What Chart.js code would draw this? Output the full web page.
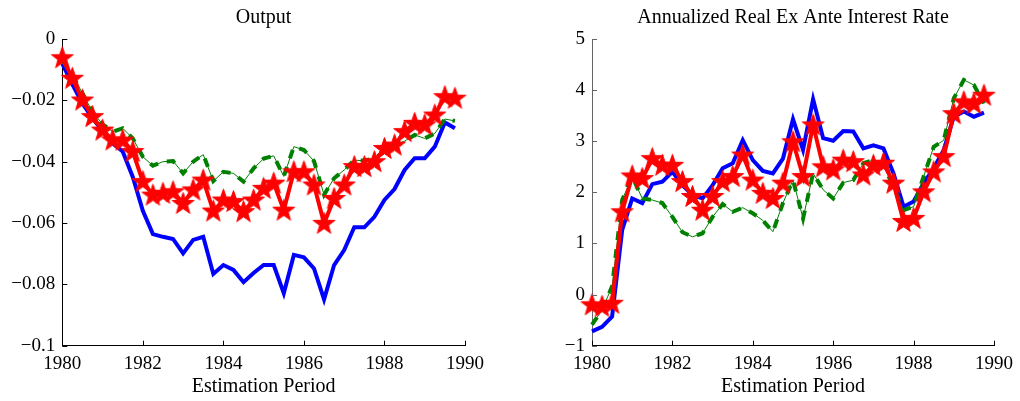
<!DOCTYPE html>
<html><head><meta charset="utf-8">
<script src="https://cdn.jsdelivr.net/npm/chart.js@4/dist/chart.umd.min.js"></script>
<style>
html,body{margin:0;padding:0;background:#fff;}
#wrap{position:relative;width:1020px;height:401px;overflow:hidden;}
canvas{position:absolute;top:0;}
</style></head><body>
<div id="wrap">
<canvas id="c1" width="510" height="401" style="left:0"></canvas>
<canvas id="c2" width="510" height="401" style="left:510px"></canvas>
</div>
<script>
const periods = [1980,1980.25,1980.5,1980.75,1981,1981.25,1981.5,1981.75,1982,1982.25,1982.5,1982.75,1983,1983.25,1983.5,1983.75,1984,1984.25,1984.5,1984.75,1985,1985.25,1985.5,1985.75,1986,1986.25,1986.5,1986.75,1987,1987.25,1987.5,1987.75,1988,1988.25,1988.5,1988.75,1989,1989.25,1989.5,1989.75];

const outputBlue = [-0.008,-0.0148,-0.021,-0.0258,-0.030,-0.034,-0.0367,-0.045,-0.056,-0.0636,-0.0645,-0.0652,-0.0699,-0.0655,-0.0645,-0.0766,-0.0737,-0.0753,-0.0793,-0.0763,-0.0737,-0.0737,-0.0829,-0.0704,-0.0712,-0.0748,-0.0849,-0.0737,-0.0688,-0.0614,-0.0614,-0.058,-0.0525,-0.0489,-0.0427,-0.0389,-0.0389,-0.0351,-0.0272,-0.0291];
const outputGreen = [-0.007,-0.0117,-0.0177,-0.0237,-0.0278,-0.0302,-0.0291,-0.0324,-0.0384,-0.0413,-0.04,-0.0398,-0.0438,-0.04,-0.0377,-0.0463,-0.0433,-0.0438,-0.0465,-0.0422,-0.039,-0.0381,-0.0448,-0.0351,-0.0362,-0.0398,-0.0508,-0.0454,-0.0427,-0.0395,-0.0397,-0.0389,-0.0367,-0.0346,-0.0333,-0.0313,-0.0324,-0.0308,-0.0261,-0.0267];
const outputRed = [-0.0061,-0.0128,-0.0199,-0.0253,-0.0297,-0.0329,-0.033,-0.0367,-0.0465,-0.0509,-0.0503,-0.0498,-0.0536,-0.0492,-0.046,-0.0561,-0.0525,-0.053,-0.0563,-0.0525,-0.0487,-0.047,-0.0558,-0.0433,-0.0433,-0.0476,-0.0601,-0.052,-0.0476,-0.0416,-0.0416,-0.04,-0.0357,-0.0346,-0.0302,-0.0275,-0.028,-0.0248,-0.0188,-0.0193];

const rateBlue = [-0.72,-0.63,-0.43,1.26,1.88,1.79,2.16,2.21,2.40,2.14,1.95,1.88,2.14,2.47,2.57,3.02,2.63,2.42,2.37,2.66,3.43,2.83,3.82,3.06,3.01,3.20,3.19,2.86,2.92,2.86,2.37,1.72,1.82,2.18,2.47,2.83,3.48,3.58,3.48,3.56];
const rateGreen = [-0.59,-0.30,0.16,1.85,2.31,1.88,1.85,1.79,1.52,1.22,1.13,1.20,1.52,1.77,1.62,1.70,1.59,1.45,1.23,1.79,2.24,1.49,2.37,2.05,1.88,2.19,2.24,2.57,2.63,2.53,2.11,1.65,1.72,2.31,2.89,3.02,3.84,4.20,4.10,3.74];
const rateRed = [-0.20,-0.23,-0.17,1.62,2.32,2.27,2.66,2.53,2.53,2.21,1.92,1.65,1.92,2.21,2.31,2.73,2.24,1.98,1.88,2.18,2.99,2.31,3.32,2.50,2.44,2.63,2.60,2.34,2.53,2.57,2.18,1.43,1.49,2.01,2.40,2.70,3.54,3.77,3.74,3.90];

const xTickValues = [1980,1982,1984,1986,1988,1990];
const xTickLabels = ['1980','1982','1984','1986','1988','1990'];
const outputTickValues = [0,-0.02,-0.04,-0.06,-0.08,-0.1];
const outputTickLabels = ['0','\u22120.02','\u22120.04','\u22120.06','\u22120.08','\u22120.1'];
const rateTickValues = [-1,0,1,2,3,4,5];
const rateTickLabels = ['\u22121','0','1','2','3','4','5'];

const FONT = '"Liberation Serif","Times New Roman",serif';

function makeStar(R, color){
  const r = R*0.40;
  const size = Math.ceil(2*R+4);
  const c = document.createElement('canvas'); c.width = c.height = size;
  const g = c.getContext('2d');
  const cx = size/2, cy = size/2 + R*0.05;
  g.beginPath();
  for(let k=0;k<10;k++){
    const ang = -Math.PI/2 + k*Math.PI/5;
    const rad = (k%2===0)?R:r;
    g.lineTo(cx+rad*Math.cos(ang), cy+rad*Math.sin(ang));
  }
  g.closePath();
  g.fillStyle=color; g.fill();
  g.lineJoin='round'; g.lineWidth=1; g.strokeStyle=color; g.stroke();
  return c;
}
const star = makeStar(11.5,'#ff0000');

function pts(ys){ return periods.map((p,i)=>({x:p,y:ys[i]})); }

const panelTitle = {
  id:'panelTitle',
  afterDraw(chart, args, opts){
    const {ctx, chartArea:a} = chart;
    ctx.save();
    ctx.font = '20px ' + FONT;
    ctx.fillStyle = '#000';
    ctx.textAlign = 'center';
    ctx.textBaseline = 'alphabetic';
    ctx.fillText(opts.text, (a.left+a.right)/2, opts.y);
    ctx.restore();
  }
};
const inwardTicks = {
  id:'inwardTicks',
  afterDraw(chart, args, opts){
    const {ctx, chartArea:a, scales:{x,y}} = chart;
    ctx.save();
    ctx.lineWidth = 1;
    ctx.strokeStyle = opts.xColor;
    ctx.beginPath();
    x.ticks.forEach(t=>{
      const px = Math.round(x.getPixelForValue(t.value))+0.5;
      ctx.moveTo(px, a.bottom); ctx.lineTo(px, a.bottom-5);
    });
    ctx.stroke();
    ctx.strokeStyle = opts.yColor;
    ctx.beginPath();
    y.ticks.forEach(t=>{
      const py = Math.round(y.getPixelForValue(t.value))+0.5;
      ctx.moveTo(a.left, py); ctx.lineTo(a.left+5, py);
    });
    ctx.stroke();
    ctx.restore();
  }
};

function makeChart(id, blue, green, red, cfg){
  return new Chart(document.getElementById(id), {
    type:'line',
    data:{ datasets:[
      {data:pts(red), borderColor:'#ff0000', borderWidth:4, pointStyle:star, pointRadius:12, pointHoverRadius:12, pointBackgroundColor:'#ff0000', pointBorderColor:'#ff0000', tension:0, clip:false},
      {data:pts(green), borderColor:'#008000', borderWidth:4, borderDash:[9,9], pointRadius:0, tension:0, clip:false},
      {data:pts(green), borderColor:'#008000', borderWidth:1, pointRadius:0, tension:0, clip:false},
      {data:pts(blue), borderColor:'#0000ff', borderWidth:4, pointRadius:0, tension:0, clip:false}
    ]},
    options:{
      responsive:false, animation:false, devicePixelRatio:1,
      layout:{padding:{top:39, right:cfg.padRight, left:0, bottom:0}},
      plugins:{legend:{display:false}, tooltip:{enabled:false},
        panelTitle:{text:cfg.title, y:23},
        inwardTicks:{xColor:'#000', yColor:cfg.yAxisColor}},
      scales:{
        x:{type:'linear', min:1980, max:1990,
          afterFit(s){ s.height = 55.3; },
          afterBuildTicks(s){ s.ticks = xTickValues.map(v=>({value:v})); },
          grid:{display:false, drawTicks:false},
          border:{display:true, color:'#000', width:1},
          ticks:{padding:7, color:'#000', font:{family:FONT, size:19}, maxRotation:0, autoSkip:false,
            callback:(v)=>{ const k = xTickValues.indexOf(v); return k>=0 ? xTickLabels[k] : ''; }},
          title:{display:true, text:'Estimation Period', color:'#000', font:{family:FONT, size:20}, padding:{top:0,bottom:2}}
        },
        y:{type:'linear', min:cfg.ymin, max:cfg.ymax,
          afterFit(s){ s.width = cfg.yWidth; },
          afterBuildTicks(s){ s.ticks = cfg.yTickValues.map(v=>({value:v})); },
          grid:{display:false, drawTicks:false},
          border:{display:true, color:cfg.yAxisColor, width:1},
          ticks:{padding:7, color:'#000', font:{family:FONT, size:19}, autoSkip:false,
            callback:(v)=>{ const k = cfg.yTickValues.findIndex(t=>Math.abs(t-v)<1e-9); return k>=0 ? cfg.yTickLabels[k] : ''; }}
        }
      }
    },
    plugins:[panelTitle, inwardTicks]
  });
}

makeChart('c1', outputBlue, outputGreen, outputRed, {title:'Output', padRight:45, yWidth:62.3, ymin:-0.1, ymax:0, yTickValues:outputTickValues, yTickLabels:outputTickLabels, yAxisColor:'#000'});
makeChart('c2', rateBlue, rateGreen, rateRed, {title:'Annualized Real Ex Ante Interest Rate', padRight:26, yWidth:82, ymin:-1, ymax:5, yTickValues:rateTickValues, yTickLabels:rateTickLabels, yAxisColor:'#666'});
</script>
</body></html>
